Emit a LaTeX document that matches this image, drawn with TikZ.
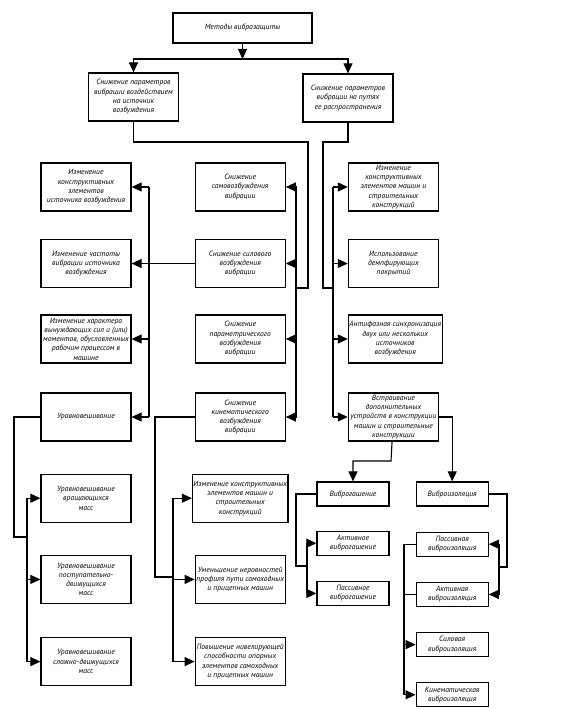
\documentclass[tikz,border=0pt]{standalone}
\usepackage{fontspec}
\setmainfont{PT Sans}
\usepackage{tikz}
\usetikzlibrary{arrows.meta, positioning}
\newcommand{\schemefont}{\fontsize{7.6}{9.3}\selectfont\itshape}
\tikzstyle{block} = [rectangle, draw, line width=1.2pt, minimum width=90pt, minimum height=48pt, inner sep=1pt, align=center, font=\schemefont]
\tikzstyle{smallblock} = [block, minimum width=72pt, minimum height=24pt]
\tikzstyle{link} = [line width=1.1pt]
\tikzstyle{arrow} = [line width=1.1pt, -{Triangle[length=10pt, width=9pt]}]

\begin{document}
\begin{tikzpicture}[x=1pt, y=-1pt]
    \useasboundingbox (0,0) rectangle (562,709);

    \node[block, minimum width=139pt, minimum height=30pt] (top) at (242.5,28) {Методы виброзащиты};
    \node[block] (src) at (133.5,97) {Снижение параметров\\вибрации воздействием\\на источник\\возбуждения};
    \node[block] (path) at (348,98) {Снижение параметров\\вибрации на путях\\ее распространения};

    % left, middle and right columns
    \node[block] (l1) at (86,187) {Изменение\\конструктивных\\элементов\\источника возбуждения};
    \node[block] (l2) at (86,263.5) {Изменение частоты\\вибрации источника\\возбуждения};
    \node[block] (l3) at (86,339) {Изменение характера\\вынуждающих сил и (или)\\моментов, обусловленных\\рабочим процессом в\\машине};
    \node[block] (l4) at (86,417) {Уравновешивание};
    \node[block, right=63pt of l1] (m1) {Снижение\\самовозбуждения\\вибрации};
    \node[block, right=63pt of l2] (m2) {Снижение силового\\возбуждения\\вибрации};
    \node[block, right=63pt of l3] (m3) {Снижение\\параметрического\\возбуждения\\вибрации};
    \node[block, right=63pt of l4] (m4) {Снижение\\кинематического\\возбуждения\\вибрации};
    \node[block, right=62pt of m1] (r1) {Изменение\\конструктивных\\элементов машин и\\строительных\\конструкций};
    \node[block, right=62pt of m2] (r2) {Использование\\демпфирующих\\покрытий};
    \node[block, right=62pt of m3] (r3) {Антифазная синхронизация\\двух или нескольких\\источников\\возбуждения};
    \node[block, right=62pt of m4] (r4) {Встраивание\\дополнительных\\устройств в конструкции\\машин и строительные\\конструкции};

    % lower part
    \node[block, below=32pt of l4] (la) {Уравновешивание\\вращающихся\\масс};
    \node[block, below=32pt of la] (lb) {Уравновешивание\\поступательно-\\движущихся\\масс};
    \node[block, below=33pt of lb] (lc) {Уравновешивание\\сложно-движущихся\\масс};
    \node[block, below=32pt of m4] (ma) {Изменение конструктивных\\элементов машин и\\строительных\\конструкций};
    \node[block, below=32pt of ma] (mb) {Уменьшение неровностей\\профиля пути самоходных\\и прицепных машин};
    \node[block, below=33pt of mb] (mc) {Повышение нивелирующей\\способности опорных\\элементов самоходных\\и прицепных машин};

    \node[smallblock] (vg) at (353,494) {Виброгашение};
    \node[smallblock, right=26pt of vg] (vi) {Виброизоляция};
    \node[smallblock, below=24pt of vg] (ga) {Активное\\виброгашение};
    \node[smallblock, below=25pt of ga] (gp) {Пассивное\\виброгашение};
    \node[smallblock, below=25pt of vi] (ip) {Пассивная\\виброизоляция};
    \node[smallblock, below=25pt of ip] (ia) {Активная\\виброизоляция};
    \node[smallblock, below=25pt of ia] (is) {Силовая\\виброизоляция};
    \node[smallblock, below=25pt of is] (ik) {Кинематическая\\виброизоляция};

    % bends and buses
    \coordinate (split) at (242.5,59);
    \coordinate (srcturn) at (308,142);
    \coordinate (midjoin) at (296,288);
    \coordinate (pathturn) at (323,142);
    \coordinate (rightjoin) at (333,288);
    \coordinate (lbus) at (149,0);
    \coordinate (mbus) at (296,0);
    \coordinate (rbus) at (333,0);
    \coordinate (balturn) at (14,537);
    \coordinate (baljoin) at (27,537);
    \coordinate (kinturn) at (155,577);
    \coordinate (kinjoin) at (173,577);
    \coordinate (gasturn) at (391,461);
    \coordinate (vgturn) at (296,566);
    \coordinate (vgjoin) at (307,566);
    \coordinate (viturn) at (507,567);
    \coordinate (vijoin) at (499,567);
    \coordinate (isobus) at (404,0);

    \draw[arrow] (top) -- (split);
    \draw[arrow] (split) -| (src);
    \draw[arrow] (split) -| (path);
    \draw[link] (src) |- (srcturn) |- (midjoin);
    \draw[link] (path) |- (pathturn) |- (rightjoin);

    \draw[link] (lbus |- l1) -- (lbus |- l4);
    \draw[link] (mbus |- m1) -- (mbus |- m4);
    \draw[link] (rbus |- r1) -- (rbus |- r4);
    \foreach \b in {l1,l3,l4} \draw[arrow] (lbus |- \b) -- (\b);
    \foreach \b in {m1,m2,m3,m4} \draw[arrow] (mbus |- \b) -- (\b);
    \foreach \b in {r1,r2,r3,r4} \draw[arrow] (rbus |- \b) -- (\b);
    \draw[arrow] (m2) -- (l2);

    \draw[link] (l4) -| (balturn) -- (baljoin);
    \draw[link] (baljoin |- la) -- (baljoin |- lc);
    \foreach \b in {la,lb,lc} \draw[arrow] (baljoin |- \b) -- (\b);
    \draw[link] (m4) -| (kinturn) -- (kinjoin);
    \draw[link] (kinjoin |- ma) -- (kinjoin |- mc);
    \foreach \b in {ma,mb,mc} \draw[arrow] (kinjoin |- \b) -- (\b);

    \draw[arrow] (r4) -- (gasturn) -| (vg);
    \draw[arrow] (r4) -| (vi);
    \draw[link] (vg) -| (vgturn) -- (vgjoin);
    \draw[link] (vgjoin |- ga) -- (vgjoin |- gp);
    \foreach \b in {ga,gp} \draw[arrow] (vgjoin |- \b) -- (\b);
    \draw[link] (vi) -| (viturn) -- (vijoin);
    \draw[link] (vijoin |- ip) -- (vijoin |- ia);
    \foreach \b in {ip,ia} \draw[arrow] (vijoin |- \b) -- (\b);
    \draw[link] (ip) -| (isobus |- ik);
    \draw[link] (ia) -- (isobus |- ia);
    \foreach \b in {is,ik} \draw[arrow] (isobus |- \b) -- (\b);
\end{tikzpicture}
\end{document}
